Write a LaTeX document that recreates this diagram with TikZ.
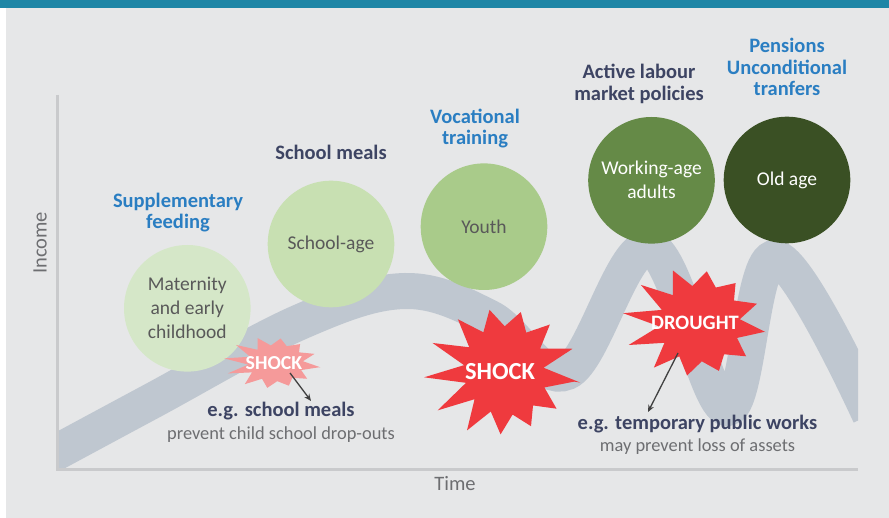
\documentclass[tikz,border=0pt]{standalone}
\usepackage{fontspec}
\setmainfont{Carlito}
\usetikzlibrary{arrows.meta}
\definecolor{bgc}{HTML}{E6E7E8}
\definecolor{barc}{HTML}{1E86A6}
\definecolor{axisc}{HTML}{C9CACC}
\definecolor{ribc}{HTML}{BFC7D0}
\definecolor{hblue}{HTML}{2A7EC2}
\definecolor{hdark}{HTML}{3D4463}
\definecolor{tgray}{HTML}{6D6E71}
\definecolor{cgray}{HTML}{595959}
\definecolor{cA}{HTML}{D5E7C8}
\definecolor{cB}{HTML}{C8E0B2}
\definecolor{cC}{HTML}{A9CB8A}
\definecolor{cD}{HTML}{658A47}
\definecolor{cE}{HTML}{3A5024}
\definecolor{shockred}{HTML}{EF3A3E}
\definecolor{shockpink}{HTML}{F59A9A}
\definecolor{arrc}{HTML}{404040}
\newcommand{\myburst}[8]{% cx cy rx ry samples domain ratio color
  \fill[#8] plot[variable=\t, samples=#5, domain=0:#6]
   ({#1+#3*(mod(round(\t),2)==0 ? 1 : #7)*(1+0.10*sin(round(\t)*157))*cos(\t*360/#6+9)},
    {#2+#4*(mod(round(\t),2)==0 ? 1 : #7)*(1+0.10*sin(round(\t)*157))*sin(\t*360/#6+9)}) -- cycle;}
\tikzset{
  heading/.style={font=\bfseries\fontsize{20.5}{21.5}\selectfont, align=center, inner sep=0pt},
  bluehead/.style={heading, text=hblue},
  darkhead/.style={heading, text=hdark},
  circ/.style={circle, minimum size=126.6pt, inner sep=0pt, align=center, font=\fontsize{19.5}{24}\selectfont},
  axisline/.style={draw=axisc, line width=3pt},
  ribbon/.style={draw=ribc, line width=36pt},
  shocktxt/.style={text=white, font=\bfseries, inner sep=0pt},
  arr/.style={draw=arrc, line width=1.3pt, -{Stealth[length=7pt,width=6pt]}},
  egtxt/.style={text=hdark, font=\bfseries\fontsize{20.5}{22}\selectfont, inner sep=0pt, anchor=base},
  subtxt/.style={text=tgray, font=\fontsize{18.4}{20}\selectfont, inner sep=0pt, anchor=base},
  axtxt/.style={text=tgray, font=\fontsize{20.5}{22}\selectfont, inner sep=0pt}
}
\begin{document}
\begin{tikzpicture}[x=1pt,y=-1pt]
\useasboundingbox (0,0) rectangle (889,518);
\fill[bgc] (6,8) rectangle (889,518);
\fill[barc] (0,0) rectangle (889,8.5);
% ribbon
\begin{scope}
\clip (57,60) rectangle (858,468);
\draw[ribbon] plot[smooth, tension=0.6] coordinates {(20,472) (150,402) (300,322) (405,291) (490,318) (567,372) (650,248) (727,408) (775,258) (870,415)};
\end{scope}
% axes
\draw[axisline] (57,95) -- (57,469) -- (858,469);
\node[axtxt, rotate=90] (income) at (40,243) {Income};
\node[axtxt, anchor=base] (time) at (455,490) {Time};
% circles
\node[circ, fill=cA, text=cgray] (mat) at (187.3,308.3) {Maternity\\and early\\childhood};
\node[circ, fill=cB, text=cgray] (school) at (331,244) {School-age};
\node[circ, fill=cC, text=cgray] (youth) at (484,226.7) {Youth};
\node[circ, fill=cD, text=white] (work) at (651.5,180.3) {Working-age\\adults};
\node[circ, fill=cE, text=white] (old) at (787,180) {Old age};
% headings
\node[bluehead] (hsup) at (178,212.5) {Supplementary\\feeding};
\node[darkhead, anchor=base] (hsm) at (331,159.3) {School meals};
\node[bluehead] (hvoc) at (475,128.4) {Vocational\\training};
\node[darkhead] (halm) at (639,83.8) {Active labour\\market policies};
\node[bluehead] (hpen) at (787,67.3) {Pensions\\Unconditional\\tranfers};
% bursts
\myburst{274}{363}{46}{27}{25}{24}{0.62}{shockpink}
\node[shocktxt, font=\bfseries\fontsize{19.8}{20}\selectfont] (shockS) at (274,363) {SHOCK};
\myburst{503}{371}{72}{68}{27}{26}{0.6}{shockred}
\node[shocktxt, font=\bfseries\fontsize{24.5}{25}\selectfont] (shockB) at (500,372) {SHOCK};
\myburst{697}{323}{68}{57}{25}{24}{0.62}{shockred}
\node[shocktxt, font=\bfseries\fontsize{20.5}{21}\selectfont] (drought) at (695,323) {DROUGHT};
% explanations
\node[egtxt] (egS) at (281,417) {e.g. school meals};
\node[subtxt] (subS) at (281,439) {prevent child school drop-outs};
\node[egtxt] (egD) at (697.5,430) {e.g. temporary public works};
\node[subtxt] (subD) at (697.5,451.7) {may prevent loss of assets};
% arrows
\coordinate (aS1) at (290,373);
\coordinate (aS2) at (311,401);
\draw[arr] (aS1) -- (aS2);
\coordinate (aD1) at (678,353);
\coordinate (aD2) at (648,412);
\draw[arr] (aD1) -- (aD2);
\end{tikzpicture}
\end{document}
